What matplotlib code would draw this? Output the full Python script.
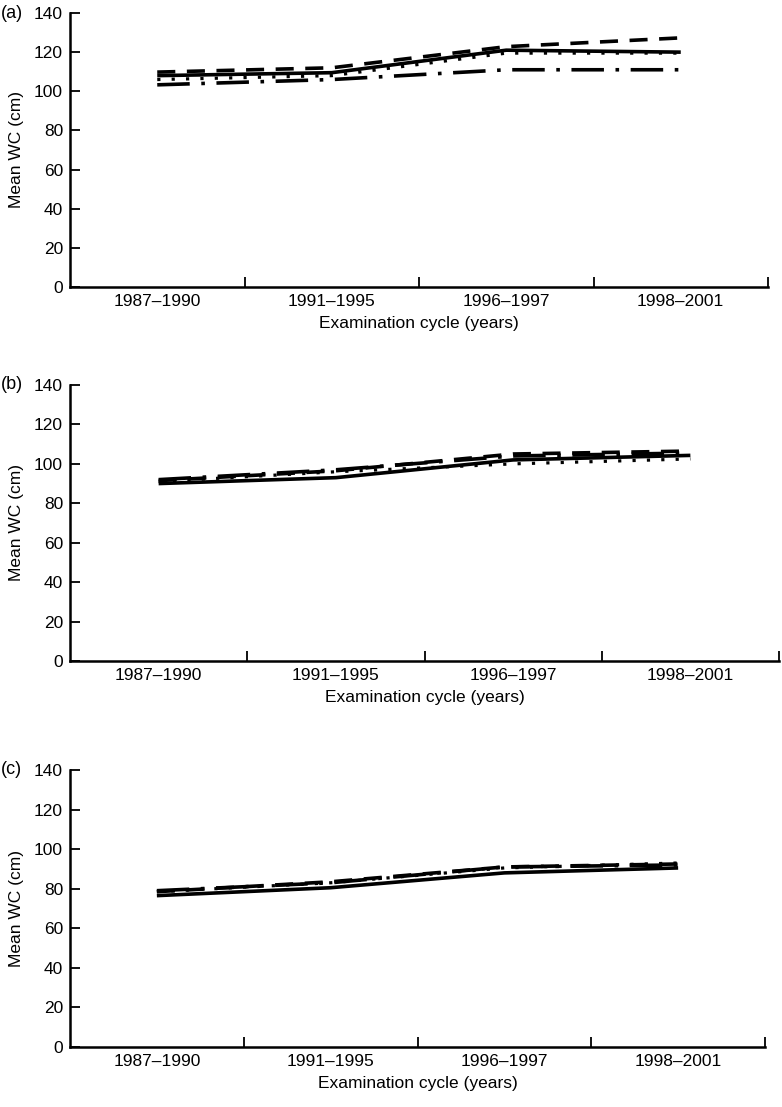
#!/usr/bin/env python3
"""
Mean waist circumference by examination cycle, three panels.
"""

import matplotlib.pyplot as plt

plt.rcParams["font.family"] = ["Liberation Sans", "DejaVu Sans"]

cycles = ["1987\u20131990", "1991\u20131995", "1996\u20131997", "1998\u20132001"]

# panel (a)
a_solid = [108, 109.5, 121, 120]
a_dashed = [109.8, 112, 122.8, 127.3]
a_dotted = [106, 108, 119.5, 119.5]
a_dashdot = [103.3, 106, 111, 111]

# panel (b)
b_solid = [90, 93, 102, 104.3]
b_dashed = [91.5, 96.5, 105, 106.5]
b_dotted = [91, 96, 100, 102.5]
b_dashdot = [92, 97, 104, 105.5]

# panel (c)
c_solid = [76.5, 80.5, 88, 90.5]
c_dashed = [78.5, 83.5, 91, 92.5]
c_dotted = [78.5, 83, 90.5, 93]
c_dashdot = [79, 83, 91, 92]

yticks = [0, 20, 40, 60, 80, 100, 120, 140]

W, H = 782, 1107
fig = plt.figure(figsize=(W / 100, H / 100), dpi=100)

# (left, right, top, bottom) in pixels
boxes = [(70, 768, 13, 287), (70, 779, 385, 661), (70, 765, 770, 1047)]
panels = [
    ("(a)", a_solid, a_dashed, a_dotted, a_dashdot),
    ("(b)", b_solid, b_dashed, b_dotted, b_dashdot),
    ("(c)", c_solid, c_dashed, c_dotted, c_dashdot),
]

x = list(range(len(cycles)))
fs = 12.5

for (l, r, t, b), (tag, solid, dashed, dotted, dashdot) in zip(boxes, panels):
    ax = fig.add_axes([l / W, 1 - b / H, (r - l) / W, (b - t) / H])

    ax.plot(x, solid, color="black", lw=2.6, solid_capstyle="butt")
    ax.plot(x, dashed, color="black", lw=2.6, dashes=(5, 3.2), dash_capstyle="butt")
    ax.plot(x, dotted, color="black", lw=2.3, dashes=(1, 3.5), dash_capstyle="butt")
    ax.plot(x, dashdot, color="black", lw=2.6, dashes=(9, 3.2, 1, 3.2), dash_capstyle="butt")

    ax.set_xlim(-0.5, 3.5)
    ax.set_ylim(0, 140)
    ax.set_yticks(yticks)

    # ticks mark category boundaries, labels sit at centres
    ax.set_xticks([0.5, 1.5, 2.5, 3.5])
    ax.set_xticklabels([])
    ax.set_xticks(x, minor=True)
    ax.set_xticklabels(cycles, minor=True)
    ax.tick_params(axis="x", which="minor", length=0, pad=5, labelsize=fs)
    ax.tick_params(axis="x", which="major", direction="in", length=7, width=1.3)
    ax.tick_params(axis="y", direction="in", length=7, width=1.3, pad=5, labelsize=fs)

    for side in ["top", "right"]:
        ax.spines[side].set_visible(False)
    for side in ["left", "bottom"]:
        ax.spines[side].set_linewidth(1.8)

    ax.set_ylabel("Mean WC (cm)", fontsize=fs, labelpad=7)
    ax.set_xlabel("Examination cycle (years)", fontsize=fs, labelpad=5)
    fig.text(1 / W, 1 - t / H, tag, fontsize=fs + 0.5, ha="left", va="center")

fig.savefig("out.png", dpi=100)
